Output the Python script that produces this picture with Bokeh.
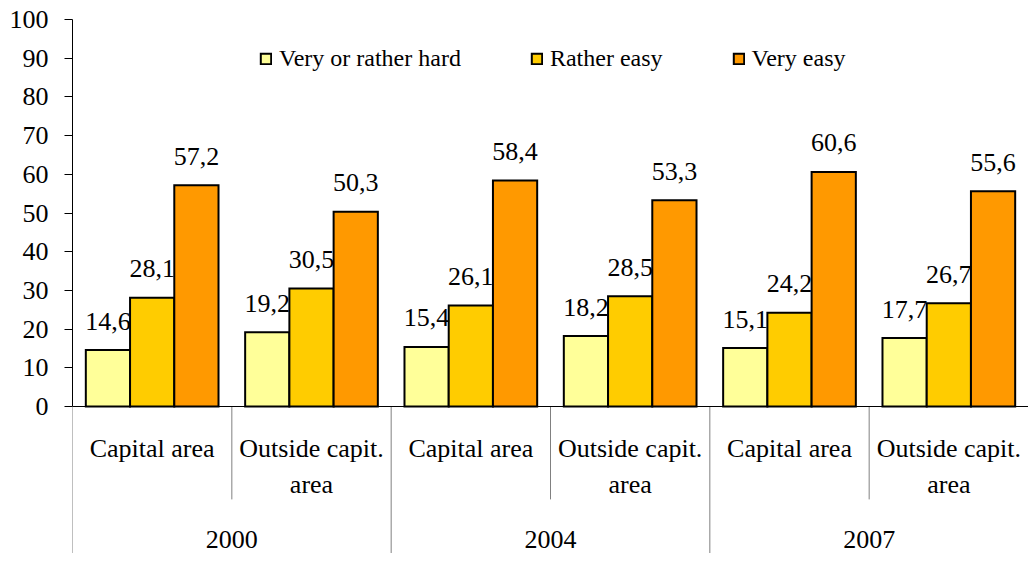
from bokeh.plotting import figure
from bokeh.models import ColumnDataSource, FactorRange, Range1d, FixedTicker, Span
from bokeh.transform import dodge
from bokeh.core.properties import value
from bokeh.embed import file_html
from bokeh.resources import INLINE

# ---- data ----
years = ["2000", "2004", "2007"]
areas = ["Capital area", "Outside capit. area"]
area_labels = ["Capital area", "Outside capit.\narea"]
series_names = ["Very or rather hard", "Rather easy", "Very easy"]
very_or_rather_hard = [14.6, 19.2, 15.4, 18.2, 15.1, 17.7]
rather_easy = [28.1, 30.5, 26.1, 28.5, 24.2, 26.7]
very_easy = [57.2, 50.3, 58.4, 53.3, 60.6, 55.6]
y_ticks = [0, 10, 20, 30, 40, 50, 60, 70, 80, 90, 100]

# ---- style ----
colors = ["#FFFF99", "#FFCC00", "#FF9900"]
FAMILY = "Liberation Serif"
FONT = value(FAMILY)
BAR_W = 0.2776
Y_MIN = -37.98

factors = [(y, a) for y in years for a in areas]

def fmt(v):
    return f"{v:.1f}".replace(".", ",")

src = ColumnDataSource(dict(
    x=factors,
    s0=very_or_rather_hard, s1=rather_easy, s2=very_easy,
    l0=[fmt(v) for v in very_or_rather_hard],
    l1=[fmt(v) for v in rather_easy],
    l2=[fmt(v) for v in very_easy],
    cat=[area_labels[areas.index(a)] for (_, a) in factors],
))

p = figure(
    x_range=FactorRange(*factors, range_padding=0, group_padding=0, factor_padding=0),
    y_range=Range1d(Y_MIN, 100),
    width=1028, height=553,
    output_backend="svg", toolbar_location=None,
    x_axis_location=None,
    min_border_left=72, min_border_right=0, min_border_top=19, min_border_bottom=0,
)
p.grid.visible = False
p.outline_line_color = None
p.background_fill_color = "white"

yax = p.yaxis[0]
yax.bounds = (0, 100)
yax.ticker = FixedTicker(ticks=y_ticks)
yax.major_label_text_font = FAMILY
yax.major_label_text_font_size = "26px"
yax.major_label_text_color = "black"
yax.axis_line_color = "black"
yax.major_tick_line_color = "black"
yax.major_tick_out = 8
yax.major_tick_in = 0
yax.minor_tick_out = 0
yax.minor_tick_in = 0
yax.major_label_standoff = 16

# separators below the axis
year_sep = ColumnDataSource(dict(x=[(y, areas[0]) for y in years]))
p.segment(x0=dodge("x", -0.5, range=p.x_range), y0=0,
          x1=dodge("x", -0.5, range=p.x_range), y1=Y_MIN,
          source=year_sep, line_color="#808080", line_width=1)
end_sep = ColumnDataSource(dict(x=[factors[-1]]))
p.segment(x0=dodge("x", 0.5, range=p.x_range), y0=0,
          x1=dodge("x", 0.5, range=p.x_range), y1=Y_MIN,
          source=end_sep, line_color="#808080", line_width=1)
sub_sep = ColumnDataSource(dict(x=[(y, areas[1]) for y in years]))
p.segment(x0=dodge("x", -0.5, range=p.x_range), y0=0,
          x1=dodge("x", -0.5, range=p.x_range), y1=-24,
          source=sub_sep, line_color="#808080", line_width=1)

# bars and labels
for i in range(3):
    off = (i - 1) * BAR_W
    p.vbar(x=dodge("x", off, range=p.x_range), top=f"s{i}", bottom=0, width=BAR_W,
           source=src, fill_color=colors[i], line_color="black", line_width=2,
           line_join="miter", legend_label=series_names[i])
for i in range(3):
    off = (i - 1) * BAR_W
    p.text(x=dodge("x", off, range=p.x_range), y=f"s{i}", text=f"l{i}", source=src,
           text_align="center", text_baseline="alphabetic", y_offset=-29,
           text_font=FONT, text_font_size="26px", text_color="black")

p.add_layout(Span(location=0, dimension="width", line_color="black", line_width=1))

# category labels
p.text(x="x", y=-7.2, text="cat", source=src, text_align="center", text_baseline="top",
       text_line_height=1.22, text_font=FONT, text_font_size="26px", text_color="black")
ysrc = ColumnDataSource(dict(x=years, t=years))
p.text(x="x", y=-34.4, text="t", source=ysrc, text_align="center", text_baseline="alphabetic",
       text_line_height=1.0, text_font=FONT, text_font_size="26px", text_color="black")

lg = p.legend[0]
lg.orientation = "horizontal"
lg.location = (187, 481)
lg.spacing = 69
lg.glyph_width = 13
lg.glyph_height = 13
lg.label_standoff = 7
lg.padding = 0
lg.margin = 0
lg.border_line_color = None
lg.background_fill_alpha = 0
lg.label_text_font = FAMILY
lg.label_text_font_size = "24px"
lg.label_text_color = "black"

open("out.html", "w").write(file_html(p, INLINE))
